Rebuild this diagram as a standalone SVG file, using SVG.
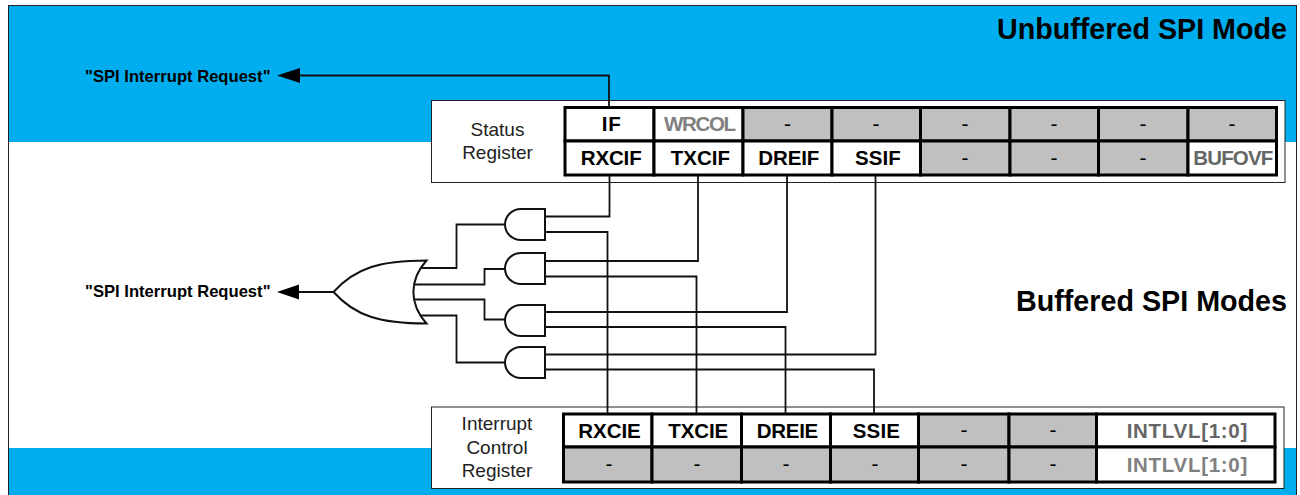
<svg xmlns="http://www.w3.org/2000/svg" width="1300" height="495" viewBox="0 0 1300 495">
<style>
text{font-family:"Liberation Sans",Arial,sans-serif;fill:#000}
.w{fill:#fff;stroke:#000;stroke-width:3}
.g{fill:#c0c0c0;stroke:#000;stroke-width:3}
.box{fill:#fff;stroke:#222;stroke-width:1}
.c{font-size:20.500px;font-weight:bold}
.d{font-size:21px;text-anchor:middle}
.l{font-size:19px;text-anchor:middle;fill:#222}
.t{font-size:28.700px;font-weight:bold;text-anchor:end}
.r{font-size:16.600px;font-weight:bold;text-anchor:end}
.wire{fill:none;stroke:#111;stroke-width:1.800}
.gate{fill:#fff;stroke:#111;stroke-width:2}
</style>
<defs>
<g id="and"><path class="gate" d="M545 0V31H521A16 15.500 0 0 1 521 0Z"/></g>
</defs>
<g id="background">
<rect x="8.500" y="5.500" width="1288" height="489" fill="#fff" stroke="#222" stroke-width="1"/>
<rect x="9" y="6" width="1287" height="136" fill="#00aeef"/>
<rect x="9" y="448" width="1287" height="47" fill="#00aeef"/>
</g>
<g id="titles">
<text class="t" x="1287" y="39">Unbuffered SPI Mode</text>
<text class="t" x="1287" y="311">Buffered SPI Modes</text>
</g>
<g id="status-register">
<rect class="box" x="431.500" y="100.500" width="853.500" height="82"/>
<text class="l" x="497.500" y="135.500">Status</text>
<text class="l" x="497.500" y="158.500">Register</text>
<rect class="w" x="565" y="107.500" width="89" height="33.500"/>
<rect class="w" x="654" y="107.500" width="89" height="33.500"/>
<rect class="g" x="743" y="107.500" width="89" height="33.500"/>
<rect class="g" x="832" y="107.500" width="88.500" height="33.500"/>
<rect class="g" x="920.500" y="107.500" width="89.500" height="33.500"/>
<rect class="g" x="1010" y="107.500" width="88.500" height="33.500"/>
<rect class="g" x="1098.500" y="107.500" width="89.500" height="33.500"/>
<rect class="g" x="1188" y="107.500" width="88.500" height="33.500"/>
<rect class="w" x="565" y="141" width="89" height="34"/>
<rect class="w" x="654" y="141" width="89" height="34"/>
<rect class="w" x="743" y="141" width="89" height="34"/>
<rect class="w" x="832" y="141" width="88.500" height="34"/>
<rect class="g" x="920.500" y="141" width="89.500" height="34"/>
<rect class="g" x="1010" y="141" width="88.500" height="34"/>
<rect class="g" x="1098.500" y="141" width="89.500" height="34"/>
<rect class="w" x="1188" y="141" width="88.500" height="34"/>
<text class="c" x="601.700" y="131" textLength="19">IF</text>
<text class="c" x="664" y="131" textLength="72" style="fill:#808080">WRCOL</text>
<text class="d" x="787.500" y="130.500">-</text><text class="d" x="876" y="130.500">-</text><text class="d" x="965" y="130.500">-</text><text class="d" x="1054" y="130.500">-</text><text class="d" x="1143" y="130.500">-</text><text class="d" x="1232" y="130.500">-</text>
<text class="c" x="580.700" y="165" textLength="61">RXCIF</text>
<text class="c" x="670.700" y="165" textLength="59.300">TXCIF</text>
<text class="c" x="758.300" y="165" textLength="61">DREIF</text>
<text class="c" x="855" y="165" textLength="45.700">SSIF</text>
<text class="d" x="965" y="164.500">-</text><text class="d" x="1054" y="164.500">-</text><text class="d" x="1143" y="164.500">-</text>
<text class="c" x="1193.300" y="165" textLength="80" style="fill:#666">BUFOVF</text>
</g>
<g id="interrupt-control-register">
<rect class="box" x="431.500" y="407" width="852.500" height="81.500"/>
<text class="l" x="497" y="430">Interrupt</text>
<text class="l" x="497" y="454">Control</text>
<text class="l" x="497" y="476.500">Register</text>
<rect class="w" x="563.500" y="414" width="88.500" height="33"/>
<rect class="w" x="652" y="414" width="89.500" height="33"/>
<rect class="w" x="741.500" y="414" width="89" height="33"/>
<rect class="w" x="830.500" y="414" width="88" height="33"/>
<rect class="g" x="918.500" y="414" width="90.500" height="33"/>
<rect class="g" x="1009" y="414" width="87.500" height="33"/>
<rect class="w" x="1096.500" y="414" width="178.500" height="33"/>
<rect class="g" x="563.500" y="447" width="88.500" height="35"/>
<rect class="g" x="652" y="447" width="89.500" height="35"/>
<rect class="g" x="741.500" y="447" width="89" height="35"/>
<rect class="g" x="830.500" y="447" width="88" height="35"/>
<rect class="g" x="918.500" y="447" width="90.500" height="35"/>
<rect class="g" x="1009" y="447" width="87.500" height="35"/>
<rect class="w" x="1096.500" y="447" width="178.500" height="35"/>
<text class="c" x="578.300" y="438" textLength="62.400">RXCIE</text>
<text class="c" x="668.300" y="438" textLength="60">TXCIE</text>
<text class="c" x="756.700" y="438" textLength="61.600">DREIE</text>
<text class="c" x="852.700" y="438" textLength="47.300">SSIE</text>
<text class="d" x="964" y="437">-</text><text class="d" x="1053" y="437">-</text>
<text class="c" x="1126.700" y="438" textLength="120.600" style="fill:#666">INTLVL[1:0]</text>
<text class="d" x="609" y="471">-</text><text class="d" x="697" y="471">-</text><text class="d" x="786" y="471">-</text><text class="d" x="875" y="471">-</text><text class="d" x="964" y="471">-</text><text class="d" x="1053" y="471">-</text>
<text class="c" x="1126.700" y="472" textLength="120.600" style="fill:#808080">INTLVL[1:0]</text>
</g>
<g id="connectors">
<path class="wire" d="M609 107V75.500H295"/>
<path class="wire" d="M333.500 292H295"/>
<path class="wire" d="M420 268H456.500V224.500H505"/>
<path class="wire" d="M414 284.500H484.500V269H505"/>
<path class="wire" d="M414 299.500H484.500V319.500H505"/>
<path class="wire" d="M420 315.500H456.500V362.500H505"/>
<path class="wire" d="M545 216.500H609.500V175"/>
<path class="wire" d="M545 232H607.500V414"/>
<path class="wire" d="M545 261H698V175"/>
<path class="wire" d="M545 276.500H696.500V414"/>
<path class="wire" d="M545 312H787V175"/>
<path class="wire" d="M545 327H785.500V414"/>
<path class="wire" d="M545 354.500H875.500V175"/>
<path class="wire" d="M545 369.500H874V414"/>
<polygon points="277,75.500 300,68 300,83" fill="#000"/>
<polygon points="277,292 299,284.500 299,299.500" fill="#000"/>
</g>
<g id="or-gate"><path class="gate" d="M333.500 292C355 268 380 260.500 426.500 260.500C409 280 409 304 426.500 323.500C380 323.500 355 316 333.500 292Z"/></g>
<g id="and-1"><use href="#and" y="209"/></g>
<g id="and-2"><use href="#and" y="253"/></g>
<g id="and-3"><use href="#and" y="305"/></g>
<g id="and-4"><use href="#and" y="347"/></g>
<g id="request-labels">
<text class="r" x="270.500" y="82">"SPI Interrupt Request"</text>
<text class="r" x="270.500" y="297">"SPI Interrupt Request"</text>
</g>
</svg>
